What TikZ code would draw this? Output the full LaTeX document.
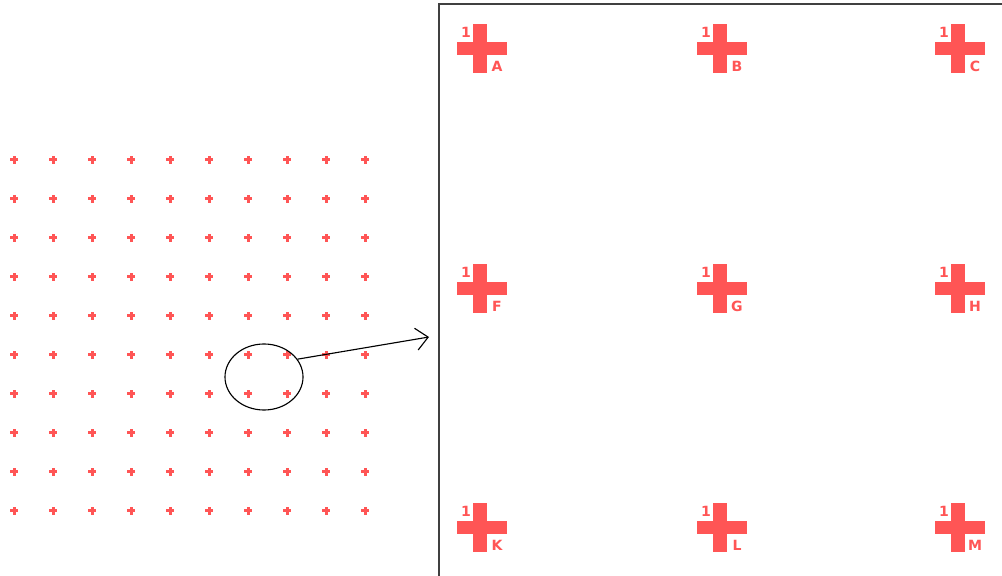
\documentclass[tikz,border=0pt]{standalone}
\usepackage{fontspec}
\setsansfont{DejaVu Sans}
\usetikzlibrary{positioning,arrows.meta,shapes.geometric}
\definecolor{mark}{HTML}{FF5555}
\definecolor{frame}{HTML}{404040}

\begin{document}
\begin{tikzpicture}[x=0.025cm,y=-0.025cm,
  dot/.style={fill=mark},
  tagtxt/.style={text=mark,font=\sffamily\bfseries\fontsize{10}{10}\selectfont,inner sep=0pt},
  lens/.style={draw=black,line width=0.8pt,ellipse,minimum width=1.95cm,minimum height=1.65cm,inner sep=0pt},
  arr/.style={-{Straight Barb[length=3mm,width=5.5mm]},line width=0.8pt}]
\useasboundingbox (0,0) rectangle (1002,576);
% small grid of marks
\foreach \i in {0,...,9}
  \foreach \j in {0,...,9} {
    \fill[dot] ({14+39*\i-4},{160+39*\j-1.5}) rectangle ++(8,3);
    \fill[dot] ({14+39*\i-1.5},{160+39*\j-4}) rectangle ++(3,8);
  }
% magnified frame
\draw[frame,line width=1.3pt] (439,580) -- (439,4) -- (1006,4);
\foreach \x/\y/\l in {480/48/A,720/48/B,958/48/C,480/288/F,720/288/G,958/288/H,480/527/K,720/527/L,958/527/M} {
  \fill[dot] (\x-7,\y-24) rectangle (\x+7,\y+25);
  \fill[dot] (\x-23,\y-6) rectangle (\x+27,\y+7);
  \node[tagtxt] (one\l) at (\x-14,\y-16) {1};
  \node[tagtxt] (tag\l) at (\x+17,\y+18) {\l};
}
% zoom lens and arrow
\node[lens] (zoom) at (264,377) {};
\coordinate (tip) at (429,337);
\draw[arr] (zoom.28) -- (tip);
\end{tikzpicture}
\end{document}
